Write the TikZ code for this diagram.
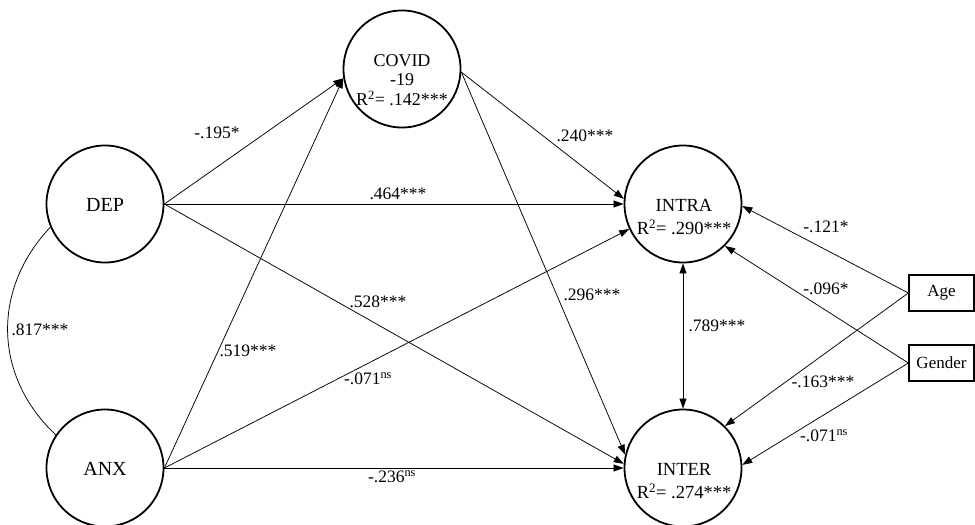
\documentclass[tikz,border=0pt]{standalone}
\usepackage{fontspec}
\setmainfont{Liberation Serif}
\usetikzlibrary{arrows.meta}
\begin{document}
\begin{tikzpicture}[x=1pt,y=-1pt,
  lat/.style={circle,draw,line width=1.8pt,minimum size=117pt,inner sep=0pt},
  obs/.style={rectangle,draw,line width=1.3pt,minimum width=65pt,minimum height=36pt,inner sep=0pt,font=\fontsize{17}{19}\selectfont},
  nm/.style={font=\fontsize{20}{22}\selectfont,inner sep=0pt,align=center},
  lbl/.style={font=\fontsize{17.5}{19}\selectfont,inner sep=0pt},
  arr/.style={-{Triangle[length=10pt,width=7pt]},line width=0.75pt},
  darr/.style={{Triangle[length=10pt,width=7pt]}-{Triangle[length=10pt,width=7pt]},line width=0.75pt},
]
\useasboundingbox (0,0) rectangle (975,525);
% latent variables
\node[lat] (covid) at (402,69) {};
\node[lat] (dep) at (105,204) {};
\node[lat] (anx) at (105,468) {};
\node[lat] (intra) at (683,204) {};
\node[lat] (inter) at (683,468) {};
\node[nm] (deptxt) at (105,205) {DEP};
\node[nm] (anxtxt) at (105,469) {ANX};
\node[nm,font=\fontsize{18}{19.5}\selectfont] (covidtxt) at (402,80) {COVID\\-19\\R\textsuperscript{2}= .142***};
\node[nm,font=\fontsize{18.5}{23}\selectfont] (intratxt) at (684,217) {INTRA\\R\textsuperscript{2}= .290***};
\node[nm,font=\fontsize{18.5}{23}\selectfont] (intertxt) at (684,481) {INTER\\R\textsuperscript{2}= .274***};
% observed
\node[obs] (age) at (941.5,293) {Age};
\node[obs] (gender) at (941.5,363) {Gender};
% paths
\draw[arr] (dep.east) -- (covid.189);
\draw[arr] (anx.east) -- (covid.189);
\draw[arr] (dep.east) -- (intra.west);
\draw[arr] (dep.east) -- (inter.176);
\draw[arr] (anx.east) -- (intra.205);
\draw[arr] (anx.east) -- (inter.west);
\draw[arr] (covid.-3) -- (intra.175);
\draw[arr] (covid.-3) -- (inter.167);
\draw[darr] (intra.south) -- (inter.north);
\draw[arr] (age.west) -- (intra.-2);
\draw[arr] (age.west) -- (inter.45);
\draw[arr] (gender.west) -- (intra.-45);
\draw[arr] (gender.west) -- (inter.3);
\draw[line width=0.75pt] (dep.203) .. controls (-9,290) and (-6,377) .. (anx.146);
% labels
\node[lbl] (l1) at (217,133) {-.195*};
\node[lbl] (l2) at (398,194) {.464***};
\node[lbl] (l3) at (378,302) {.528***};
\node[lbl] (l4) at (248,351) {.519***};
\node[lbl] (l5) at (368,379) {-.071\textsuperscript{ns}};
\node[lbl] (l6) at (392,477) {-.236\textsuperscript{ns}};
\node[lbl] (l7) at (585,136) {.240***};
\node[lbl] (l8) at (592,295) {.296***};
\node[lbl] (l9) at (717,326) {.789***};
\node[lbl] (l10) at (826,227) {-.121*};
\node[lbl] (l11) at (826,289) {-.096*};
\node[lbl] (l12) at (823,382) {-.163***};
\node[lbl] (l13) at (824,436) {-.071\textsuperscript{ns}};
\node[lbl] (l14) at (40,330) {.817***};
\end{tikzpicture}
\end{document}
